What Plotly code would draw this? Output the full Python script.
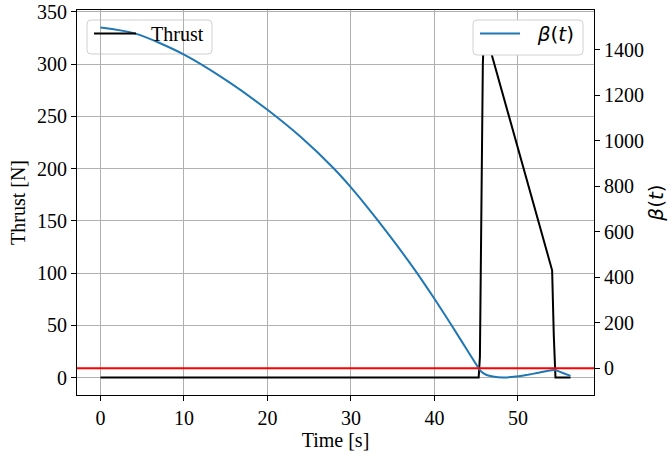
import plotly.graph_objects as go

# Thrust profile of the burn
time_thrust = [0.0, 45.3, 45.45, 45.6, 45.8, 45.95, 54.1, 54.3, 54.5, 56.3]
thrust = [0.0, 0.0, 20.0, 150.0, 300.0, 335.0, 102.6, 40.0, 0.0, 0.0]

# beta(t) along the trajectory
time_beta = [0.0, 4.2, 10.0, 15.4, 20.0, 24.0, 27.95, 30.0, 33.1, 37.5, 40.0,
             42.7, 45.3, 45.6, 46.25, 47.0, 48.2, 49.5, 51.0, 52.5, 54.4, 55.3, 56.3]
beta = [1498, 1471, 1379, 1258, 1136, 1016, 878, 795, 655, 440, 305,
        151, 0, -15, -30, -37, -41, -38, -30, -20, -8, -20, -34]

x_ticks = [0, 10, 20, 30, 40, 50]
thrust_ticks = [0, 50, 100, 150, 200, 250, 300, 350]
beta_ticks = [0, 200, 400, 600, 800, 1000, 1200, 1400]

W, H = 668, 454
ML, MR, MT, MB = 77, 74, 10, 59
PW, PH = W - ML - MR, H - MT - MB

SERIF = "Liberation Serif"
SANS = "DejaVu Sans"
FS = 20
NB = "\u00a0"


def padded(lo, hi, frac=0.05):
    span = hi - lo
    return [lo - frac * span, hi + frac * span]


def px(x):
    return (x - ML) / PW


def py(y):
    return (H - MB - y) / PH


def rounded_box(x0, y0, x1, y1, r=4):
    # rounded rectangle given in pixel coordinates, converted to paper units
    rx, ry = r / PW, r / PH
    a, b, c, d = px(x0), px(x1), py(y1), py(y0)
    return (f"M{a + rx},{c} L{b - rx},{c} Q{b},{c} {b},{c + ry} "
            f"L{b},{d - ry} Q{b},{d} {b - rx},{d} L{a + rx},{d} "
            f"Q{a},{d} {a},{d - ry} L{a},{c + ry} Q{a},{c} {a + rx},{c} Z")


fig = go.Figure()
fig.add_trace(go.Scatter(
    x=time_thrust, y=thrust, mode="lines", name=NB * 2 + "Thrust",
    line=dict(color="black", width=2), yaxis="y", legend="legend"))
fig.add_trace(go.Scatter(
    x=time_beta, y=beta, mode="lines", name=NB * 2 + "<i>β</i>(<i>t</i>)",
    line=dict(color="#1f77b4", width=2, shape="spline", smoothing=0.8),
    yaxis="y2", legend="legend2"))

axis_common = dict(
    showline=True, linecolor="black", linewidth=1.1,
    ticks="outside", ticklen=5, tickwidth=1.1, tickcolor="black",
    tickfont=dict(family=SERIF, size=FS, color="black"),
    zeroline=False,
)

fig.update_layout(
    width=W, height=H,
    margin=dict(l=ML, r=MR, t=MT, b=MB, autoexpand=False),
    paper_bgcolor="white", plot_bgcolor="white",
    xaxis=dict(
        **axis_common, mirror=True,
        range=padded(min(time_thrust + time_beta), max(time_thrust + time_beta)),
        tickvals=x_ticks, showgrid=True, gridcolor="#b0b0b0", gridwidth=1,
        title=dict(text="Time [s]", font=dict(family=SERIF, size=FS, color="black"),
                   standoff=3),
    ),
    yaxis=dict(
        **axis_common,
        range=padded(min(thrust), max(thrust)),
        tickvals=thrust_ticks, showgrid=True, gridcolor="#b0b0b0", gridwidth=1,
        title=dict(text="Thrust [N]", font=dict(family=SERIF, size=FS, color="black"),
                   standoff=5),
    ),
    yaxis2=dict(
        **axis_common, overlaying="y", side="right",
        range=padded(min(beta), max(beta)),
        tickvals=beta_ticks, showgrid=False,
        title=dict(text="<i>β</i>(<i>t</i>)", font=dict(family=SANS, size=FS, color="black"),
                   standoff=9),
    ),
    legend=dict(
        x=px(89), y=py(14), xanchor="left", yanchor="top",
        bgcolor="rgba(0,0,0,0)", borderwidth=0,
        font=dict(family=SERIF, size=FS, color="black"),
        itemwidth=42,
    ),
    legend2=dict(
        x=px(475), y=py(14), xanchor="left", yanchor="top",
        bgcolor="rgba(0,0,0,0)", borderwidth=0,
        font=dict(family=SANS, size=FS, color="black"),
        itemwidth=40,
    ),
    shapes=[
        dict(type="path", path=rounded_box(87, 20, 212, 54), xref="paper", yref="paper",
             fillcolor="rgba(255,255,255,0.8)", line=dict(color="#d0d0d0", width=1),
             layer="between"),
        dict(type="path", path=rounded_box(473, 20, 583, 55), xref="paper", yref="paper",
             fillcolor="white", line=dict(color="#d0d0d0", width=1),
             layer="above"),
        dict(type="line", xref="x domain", x0=0, x1=1, yref="y2", y0=0, y1=0,
             line=dict(color="red", width=2), layer="above"),
    ],
    showlegend=True,
)

fig.write_html("out.html")
